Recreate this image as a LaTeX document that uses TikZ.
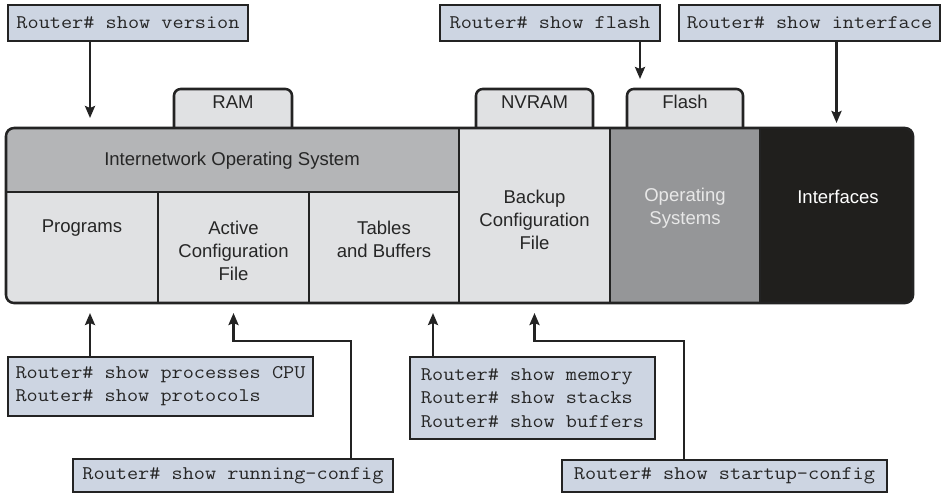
\documentclass[tikz,border=0pt]{standalone}
\usepackage{fontspec}
\setmainfont{Liberation Sans}
\setmonofont[FakeStretch=1.12]{Latin Modern Mono}
\usetikzlibrary{arrows.meta,fit}
\definecolor{cmdfill}{RGB}{205,213,226}
\definecolor{cellfill}{RGB}{224,225,227}
\definecolor{iosfill}{RGB}{180,181,183}
\definecolor{osfill}{RGB}{149,150,152}
\definecolor{intffill}{RGB}{32,31,29}
\definecolor{bordercol}{RGB}{35,35,35}
\definecolor{ostext}{RGB}{232,232,232}
\begin{document}
\begin{tikzpicture}[x=0.75pt,y=-0.75pt,
  lw/.style={line width=1.9pt},
  cmd/.style={draw=bordercol,lw,fill=cmdfill,inner sep=0pt,outer sep=0pt,anchor=north west,
    font=\fontsize{14.5}{17.4}\selectfont\ttfamily,align=left,text=black!85},
  cell/.style={inner sep=0pt,outer sep=0pt,draw=none},
  lbl/.style={font=\fontsize{13.9}{17.3}\selectfont,align=center,text=black!85},
  tabshape/.style={draw=bordercol,lw,fill=cellfill,rounded corners=5pt},
  sep/.style={draw=bordercol,lw},
  arr/.style={draw=bordercol,lw,-{Stealth[length=9pt,width=7.5pt,inset=1.5pt]}}
]
\useasboundingbox (0,0) rectangle (942,494);

% command boxes
\node[cmd,minimum width=180pt,minimum height=27pt] (ver) at (8,5) {Router\# show version};
\node[cmd,minimum width=165pt,minimum height=27pt] (fl) at (440,5) {Router\# show flash};
\node[cmd,minimum width=195.75pt,minimum height=27pt] (intfc) at (679,5) {Router\# show interface};
\node[cmd,minimum width=228.75pt,minimum height=44.25pt] (proc) at (8,357) {Router\# show processes CPU\\Router\# show protocols};
\node[cmd,minimum width=183.75pt,minimum height=61.5pt] (mem) at (410,357) {Router\# show memory\\Router\# show stacks\\Router\# show buffers};
\node[cmd,minimum width=240pt,minimum height=24.75pt] (run) at (73,459) {Router\# show running-config};
\node[cmd,minimum width=243.75pt,minimum height=24pt] (start) at (562,460) {Router\# show startup-config};

% tabs
\draw[tabshape] (174,130) -- (174,89) -- (292,89) -- (292,130);
\draw[tabshape] (476,130) -- (476,89) -- (593,89) -- (593,130);
\draw[tabshape] (627,130) -- (627,89) -- (743,89) -- (743,130);
\node[cell,fit={(174,89) (292,128)},lbl] (ram) {RAM};
\node[cell,fit={(476,89) (593,128)},lbl] (nvram) {NVRAM};
\node[cell,fit={(627,89) (743,128)},lbl] (flash) {Flash};

% main block
\begin{scope}
\clip[rounded corners=6pt] (6,128) rectangle (913,303);
\node[cell,fill=iosfill,fit={(6,128) (459,192)}] (ios) {};
\node[cell,fill=cellfill,fit={(6,192) (158,303)}] (prog) {};
\node[cell,fill=cellfill,fit={(158,192) (309,303)}] (act) {};
\node[cell,fill=cellfill,fit={(309,192) (459,303)}] (tab) {};
\node[cell,fill=cellfill,fit={(459,128) (610,303)}] (bak) {};
\node[cell,fill=osfill,fit={(610,128) (760,303)}] (os) {};
\node[cell,fill=intffill,fit={(760,128) (913,303)}] (intf) {};
\end{scope}
\draw[sep] (ios.south west) -- (ios.south east);
\draw[sep] (prog.north east) -- (prog.south east);
\draw[sep] (act.north east) -- (act.south east);
\draw[sep] (bak.north west) -- (bak.south west);
\draw[sep] (bak.north east) -- (bak.south east);
\draw[sep] (os.north east) -- (os.south east);
\draw[draw=bordercol,lw,rounded corners=6pt] (6,128) rectangle (913,303);

% labels
\node[lbl] (iosT) at (232,161) {Internetwork Operating System};
\node[lbl] (progT) at (82,228) {Programs};
\node[lbl] (actT) at (233.5,251) {Active\\Configuration\\File};
\node[lbl] (tabT) at (384,239.5) {Tables\\and Buffers};
\node[lbl] (bakT) at (534.5,220) {Backup\\Configuration\\File};
\node[lbl,text=ostext] (osT) at (685,208.5) {Operating\\Systems};
\node[lbl,text=white] (intfT) at (838,197) {Interfaces};

% connectors
\coordinate (cv) at (90,0);
\coordinate (cf) at (640,0);
\coordinate (ct) at (433,0);
\coordinate (ra) at (351,341);
\coordinate (sa) at (684,341);
\draw[arr,shorten >=7.5pt] (ver.south -| cv) -- (ios.north -| cv);
\draw[arr,shorten >=7.5pt] (fl.south -| cf) -- (flash.north -| cf);
\draw[arr,shorten >=3.75pt] (intfc.south -| intf.north) -- (intf.north);
\draw[arr,shorten >=7.5pt] (proc.north -| cv) -- (prog.south -| cv);
\draw[arr,shorten >=7.5pt] (mem.north -| ct) -- (tab.south -| ct);
\draw[arr,shorten >=7.5pt] (run.north -| ra) -- (ra) -| (act.south);
\draw[arr,shorten >=7.5pt] (start.north -| sa) -- (sa) -| (bak.south);
\end{tikzpicture}
\end{document}
